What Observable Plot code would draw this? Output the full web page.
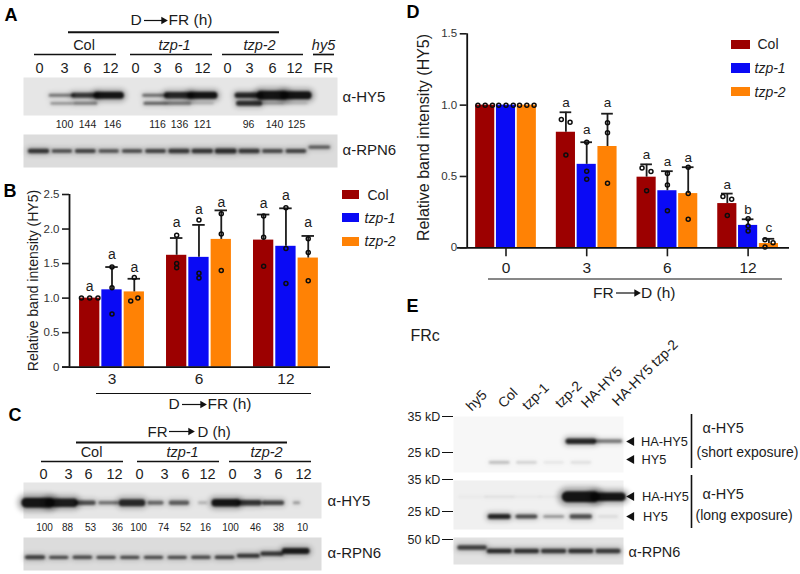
<!DOCTYPE html>
<html><head><meta charset="utf-8">
<script src="https://cdn.jsdelivr.net/npm/d3@7"></script>
<script src="https://cdn.jsdelivr.net/npm/@observablehq/plot@0.6"></script>
<style>
html,body{margin:0;padding:0;background:#fff}
#fig{position:relative;width:800px;height:574px;overflow:hidden;font-family:"Liberation Sans",Arial,sans-serif}
#fig svg{position:absolute;overflow:visible;background:transparent}
</style></head><body><div id="fig"></div>
<script>
// ---------- chart values ----------
const seriesNames = ["Col", "tzp-1", "tzp-2"];
const seriesColors = ["#9c0000", "#0a0af5", "#ff8205"];

const groupsB = ["3", "6", "12"];
const meansB = [[1.0, 1.12, 1.09], [1.62, 1.59, 1.85], [1.84, 1.75, 1.58]];
const topsB = [[1.0, 1.45, 1.28], [1.87, 2.06, 2.27], [2.21, 2.30, 1.90]];
const pointsB = [
  [[1, 1, 1], [1.45, 1.15, 0.77], [0.96, 1.0, 1.30]],
  [[1.91, 1.5, 1.44], [2.13, 1.36, 1.29], [2.22, 1.93, 1.40]],
  [[2.19, 1.88, 1.46], [2.31, 1.72, 1.21], [1.86, 1.66, 1.25]]
];
const jitterB = {"0-0": [-0.37, 0, 0.37], "0-2": [-0.16, 0.16, 0]};
const lettersB = [["a", "a", "a"], ["a", "a", "a"], ["a", "a", "a"]];
const letterPosB = [[1.17, 1.63, 1.45], [2.1, 2.28, 2.39], [2.37, 2.49, 2.09]];

const groupsD = ["0", "3", "6", "12"];
const meansD = [[1, 1, 1], [0.81, 0.585, 0.71], [0.495, 0.40, 0.38], [0.31, 0.157, 0.03]];
const topsD = [[1, 1, 1], [0.95, 0.74, 0.94], [0.585, 0.537, 0.565], [0.38, 0.20, 0.063]];
const pointsD = [
  [[1, 1, 1], [1, 1, 1], [1, 1, 1]],
  [[0.90, 0.88, 0.65], [0.74, 0.537, 0.48], [0.876, 0.806, 0.453]],
  [[0.56, 0.535, 0.40], [0.52, 0.44, 0.26], [0.565, 0.38, 0.20]],
  [[0.36, 0.34, 0.227], [0.203, 0.152, 0.117], [0.056, 0.035, 0.005]]
];
const jitterD = {"0-0": [-0.35, 0, 0.35], "0-1": [-0.35, 0, 0.35], "0-2": [-0.35, 0, 0.35],
  "1-0": [-0.22, 0.2, 0], "2-0": [-0.22, 0.21, 0], "3-0": [-0.21, 0.21, 0], "3-2": [-0.19, 0.2, -0.19]};
const lettersD = [["", "", ""], ["a", "a", "a"], ["a", "a", "a"], ["a", "b", "c"]];
const letterPosD = [[0, 0, 0], [1.02, 0.827, 1.02], [0.652, 0.605, 0.63], [0.444, 0.266, 0.138]];

const ticksB = [0, 0.5, 1, 1.5, 2, 2.5];
const ticksD = [0, 0.5, 1, 1.5];

// blot band strengths, one entry per lane
const timeLabels = ["0", "3", "6", "12"];
const quantA = ["100", "144", "146", "116", "136", "121", "96", "140", "125"];
const quantC = ["100", "88", "53", "36", "100", "74", "52", "16", "100", "46", "38", "10"];
const a1Upper = [0, .5, .8, 1, 0, .55, .9, 1, 0, .9, 1, 1, 0];
const a1UpperT = [0, 3, 5, 7, 0, 3, 6.5, 7, 0, 5.5, 9, 8, 0];
const a1Lower = [0, .4, .45, 0, 0, .6, .45, .2, 0, .85, .25, .15, 0];
const a1LowerT = [0, 2.2, 3, 0, 0, 3, 3.5, 2, 0, 5, 2.5, 2, 0];
const a2Band = [.8, .68, .72, .66, .7, .72, .78, .8, .85, .78, .68, .72, 0];
const a2BandT = [4.5, 3.5, 4, 3.5, 3.5, 4, 4.5, 4.5, 5, 4.5, 4, 4, 0];
const a2Hy5 = [0, 0, 0, 0, 0, 0, 0, 0, 0, 0, 0, 0, .62];
const c1Band = [1, .95, .68, .5, .88, .55, .6, .24, 1, .82, .72, .35];
const c1BandT = [10, 8.5, 4.5, 3.5, 7, 4, 4.5, 2.5, 7.5, 5.5, 4.5, 2.5];
const c1Span = [.5, .52, .36, .36, .42, .26, .34, .14, .46, .4, .38, .1];
const c2Band = [.75, .68, .68, .68, .68, .68, .68, .68, .75, 0, 0, 0];
const c2BandT = [4, 3.2, 3.5, 3.2, 3.2, 3.2, 3.2, 3.4, 3.6, 0, 0, 0];
const c2Rise1 = [0, 0, 0, 0, 0, 0, 0, 0, 0, .8, 0, 0];
const c2Rise2 = [0, 0, 0, 0, 0, 0, 0, 0, 0, 0, .8, 0];
const c2Rise3 = [0, 0, 0, 0, 0, 0, 0, 0, 0, 0, 0, .95];
const e1Upper = [0, 0, 0, 0, .9, .5];
const e1UpperT = [0, 0, 0, 0, 5.5, 3.6];
const e1Lower = [0, .26, .16, .07, .1, 0];
const e2Upper = [.03, .07, .04, .04, 1, 1];
const e2UpperT = [2, 2, 2, 2, 11, 8.5];
const e2Lower = [0, .9, .7, .35, .68, .1];
const e2LowerT = [0, 5, 4, 3, 4.5, 2];
const e3Band = [0, .85, .82, .78, .82, .78];
const e3Hy5 = [.75, 0, 0, 0, 0, 0];

const laneNamesE = ["hy5", "Col", "tzp-1", "tzp-2", "HA-HY5", "HA-HY5 tzp-2"];
const kdLabels = ["35 kD", "25 kD", "35 kD", "25 kD", "50 kD"];

// ---------- helpers ----------
const fig = document.getElementById("fig");
const ink = "#1c1c1c";
function place(svg, left, top) { svg.style.left = left + "px"; svg.style.top = top + "px"; fig.appendChild(svg); }

function blot(rows, {left, top, width, height, lane0, step, bg}) {
  const bands = rows.flatMap(r => r.values.map((v, i) => ({
    lane: i, y: r.y, v,
    t: Array.isArray(r.thick) ? r.thick[i] : r.thick,
    span: Array.isArray(r.span) ? r.span[i] : (r.span ?? .5)
  })).filter(b => b.v > 0));
  const band = (k, o, blur) => Plot.ruleY(bands, {
    y: "y", x1: d => d.lane - d.span, x2: d => d.lane + d.span,
    strokeWidth: d => d.t * k, strokeOpacity: {value: d => d.v * o, scale: null},
    stroke: "#080808", strokeLinecap: "round", imageFilter: `blur(${blur}px)`
  });
  const svg = Plot.plot({
    width, height, margin: 0,
    x: {type: "linear", domain: [-lane0 / step, (width - lane0) / step], range: [0, width], axis: null},
    y: {type: "linear", domain: [0, 1], range: [0, height], axis: null},
    marks: [Plot.frame({fill: bg, stroke: "none"}), band(1.8, .3, 2.4), band(1, .92, 1.15)]
  });
  place(svg, left, top);
}

function bars({groups, means, tops, points, jitter, letters, letterPos, ticks, yMax, left, top, width, height, ml, mr, mt, mb,
  slot0, slotW, gap, barHalf, baseLeft, tickLen, tickPad, yFont, xFont, letterFont, capHalf}) {
  const pos = (g, s) => g * gap + s;
  const xmin = (ml - slot0) / slotW, xmax = (width - mr - slot0) / slotW;
  const rows = groups.flatMap((g, gi) => seriesNames.map((n, si) => ({
    s: pos(gi, si), series: n, mean: means[gi][si], top: tops[gi][si]})));
  const pts = groups.flatMap((g, gi) => seriesNames.flatMap((n, si) => points[gi][si].map((v, k) => ({
    s: pos(gi, si) + ((jitter[gi + "-" + si] || [0, 0, 0])[k]), v}))));
  const lets = groups.flatMap((g, gi) => seriesNames.map((n, si) => ({
    s: pos(gi, si), t: letters[gi][si], v: letterPos[gi][si]}))).filter(d => d.t);
  const centers = groups.map((g, gi) => pos(gi, 1));
  const svg = Plot.plot({
    width, height, marginLeft: ml, marginRight: mr, marginTop: mt, marginBottom: mb,
    style: {fontFamily: '"Liberation Sans",Arial,sans-serif', color: ink, background: "transparent"},
    x: {type: "linear", domain: [xmin, xmax]},
    y: {type: "linear", domain: [0, yMax]},
    color: {domain: seriesNames, range: seriesColors},
    marks: [
      Plot.rectY(rows, {x1: d => d.s - barHalf, x2: d => d.s + barHalf, y: "mean", fill: "series", inset: 0}),
      Plot.ruleX(rows.filter(d => d.top > d.mean), {x: "s", y1: "mean", y2: "top", stroke: ink, strokeWidth: 1.8}),
      Plot.ruleY(rows.filter(d => d.top > d.mean), {y: "top", x1: d => d.s - capHalf, x2: d => d.s + capHalf, stroke: ink, strokeWidth: 1.8}),
      Plot.dot(pts, {x: "s", y: "v", r: 2, stroke: "#0c0c0c", strokeWidth: 1.5, fill: "none"}),
      Plot.text(lets, {x: "s", y: "v", text: "t", fontSize: letterFont, fill: ink}),
      Plot.ruleX([xmin], {y1: 0, y2: yMax, stroke: "#111", strokeWidth: 1.8}),
      Plot.ruleY([0], {x1: baseLeft, x2: xmax, stroke: "#111", strokeWidth: 1.8}),
      Plot.axisY({ticks, tickFormat: d => d === 0 ? "0" : d.toFixed(1), tickSize: 7, tickPadding: 3, fontSize: yFont, strokeWidth: 1.6, label: null, anchor: "left", fill: "#333"}),
      Plot.axisX({ticks: centers, tickFormat: (d, i) => groups[i], tickSize: tickLen, tickPadding: tickPad, fontSize: xFont, strokeWidth: 1.6, label: null, anchor: "bottom", fill: ink})
    ]
  });
  place(svg, left, top);
}

// ---------- blots ----------
blot([{y: .47, values: a1Upper, thick: a1UpperT, span: .5}, {y: .68, values: a1Lower, thick: a1LowerT, span: .45}],
  {left: 23, top: 77, width: 314, height: 38, lane0: 15.5, step: 23.4, bg: "#e6e6e6"});
blot([{y: .5, values: a2Band, thick: a2BandT, span: .36}, {y: .38, values: a2Hy5, thick: 3.2, span: .4}],
  {left: 23, top: 134, width: 314, height: 33, lane0: 15.5, step: 23.4, bg: "#dcdcdc"});
blot([{y: .56, values: c1Band, thick: c1BandT, span: c1Span}],
  {left: 23, top: 482, width: 298, height: 36, lane0: 15, step: 23.5, bg: "#e6e6e6"});
blot([{y: .6, values: c2Band, thick: c2BandT, span: .34}, {y: .55, values: c2Rise1, thick: 4, span: .4},
      {y: .49, values: c2Rise2, thick: 4.2, span: .4}, {y: .41, values: c2Rise3, thick: 6, span: .46}],
  {left: 23, top: 537, width: 298, height: 33, lane0: 12, step: 23.7, bg: "#dcdcdc"});
blot([{y: .44, values: e1Upper, thick: e1UpperT, span: .46}, {y: .82, values: e1Lower, thick: 2.2, span: .34}],
  {left: 453, top: 416, width: 170, height: 56, lane0: 19, step: 27.2, bg: "#f7f7f7"});
blot([{y: .33, values: e2Upper, thick: e2UpperT, span: .5}, {y: .735, values: e2Lower, thick: e2LowerT, span: .33}],
  {left: 453, top: 480, width: 170, height: 49, lane0: 19, step: 27.2, bg: "#f0f0f0"});
blot([{y: .5, values: e3Band, thick: 4.5, span: .38}, {y: .37, values: e3Hy5, thick: 4.5, span: .46}],
  {left: 453, top: 537, width: 170, height: 27, lane0: 19, step: 27.2, bg: "#e2e2e2"});

// ---------- bar charts ----------
bars({groups: groupsB, means: meansB, tops: topsB, points: pointsB, jitter: jitterB, letters: lettersB, letterPos: letterPosB,
  ticks: ticksB, yMax: 2.5, left: 0, top: 170, width: 400, height: 222, ml: 69, mr: 70, mt: 24, mb: 25.3,
  slot0: 89.2, slotW: 22.3, gap: 3.9, barHalf: .455, baseLeft: -1.22, tickLen: 0, tickPad: 6, yFont: 11.5, xFont: 15.5, letterFont: 14, capHalf: .28});
bars({groups: groupsD, means: meansD, tops: topsD, points: pointsD, jitter: jitterD, letters: lettersD, letterPos: letterPosD,
  ticks: ticksD, yMax: 1.5, left: 400, top: 0, width: 400, height: 280, ml: 66.7, mr: 11, mt: 33.3, mb: 32.7,
  slot0: 84.7, slotW: 20.8, gap: 3.88, barHalf: .46, baseLeft: -1.33, tickLen: 9, tickPad: 5, yFont: 11.5, xFont: 15.5, letterFont: 13.5, capHalf: .28});

// ---------- annotation layer, page coordinates ----------
const label = (s, x, y, o = {}) => Plot.text([s], {x: () => x, y: () => y, text: d => d, textAnchor: "start", lineAnchor: "middle", fill: ink, fontSize: 14.5, ...o});
const center = (s, x, y, o = {}) => label(s, x, y, {textAnchor: "middle", ...o});
const hline = (a, b, y, w = 1.7) => Plot.ruleY([y], {x1: () => a, x2: () => b, stroke: "#111", strokeWidth: w});
const vline = (x, a, b, w = 1.6) => Plot.ruleX([x], {y1: () => a, y2: () => b, stroke: "#111", strokeWidth: w});
const arrowHead = (x, y, angle, r = 3) => Plot.dot([0], {x: () => x, y: () => y, symbol: "triangle", rotate: angle, r, fill: "#111", stroke: "none"});
const arrow = (a, b, y) => [hline(a, b - 3, y, 1.2), arrowHead(b - 3, y, 90, 2.8)];
const swatch = (a, b, t, u, c) => Plot.rect([0], {x1: () => a, x2: () => b, y1: () => t, y2: () => u, fill: c});
const ital = {fontStyle: "italic"};
const bold = {fontWeight: "bold", fontSize: 18, fill: "#000"};
const lanesAx = [39, 64, 87, 110, 135, 157, 178, 202, 227, 249, 272, 294];
const quantAx = [64, 87, 112, 157, 179, 202, 248, 274, 296];
const lanesCx = [43, 68, 88, 114, 139, 164, 185, 207, 232, 257, 278, 303];
const quantCx = [44, 67, 90, 117, 138, 163, 185, 205, 230, 255, 278, 302];
const laneEx = [[468, 408], [500, 405], [524, 407], [557, 405], [583, 405], [614, 403]];

const marks = [
  // A
  label("A", 4, 15, bold),
  label("D", 130, 20, {fontSize: 15.5}), ...arrow(144, 166, 20), label("FR (h)", 168, 20, {fontSize: 15.5}),
  hline(68, 279, 31.7, 2),
  center("Col", 83.5, 45), center("tzp-1", 174, 45, ital), center("tzp-2", 259, 45, ital), center("hy5", 323, 45, ital),
  hline(34, 116, 54), hline(130, 212, 54), hline(222, 303, 54), hline(313, 334, 54),
  ...lanesAx.map((x, i) => center(timeLabels[i % 4], x, 67.5)), center("FR", 323, 67.5),
  ...quantA.map((s, i) => center(s, quantAx[i], 124.5, {fontSize: 10.5})),
  label("α-HY5", 342, 97, {fontSize: 15}), label("α-RPN6", 342, 149.5, {fontSize: 15}),
  // B
  label("B", 3, 191, bold),
  label("Relative band intensity (HY5)", 33, 280, {rotate: -90, textAnchor: "middle", fontSize: 14}),
  swatch(342, 359, 190, 199, seriesColors[0]), swatch(342, 359, 213, 222, seriesColors[1]), swatch(342, 359, 237, 246, seriesColors[2]),
  label("Col", 367, 195, {fontSize: 14}), label("tzp-1", 364, 218, {fontSize: 14, ...ital}), label("tzp-2", 364, 241, {fontSize: 14, ...ital}),
  hline(96, 311, 393, 1),
  label("D", 168, 404, {fontSize: 15.5}), ...arrow(182, 205, 404), label("FR (h)", 207, 404, {fontSize: 15.5}),
  // C
  label("C", 8, 415, bold),
  label("FR", 147, 432, {fontSize: 15}), ...arrow(169, 193, 431), label("D (h)", 197, 432, {fontSize: 15}),
  hline(76, 287, 442, 2),
  center("Col", 91, 452), center("tzp-1", 182, 452, ital), center("tzp-2", 266, 452, ital),
  hline(41, 123, 461), hline(137, 219, 461), hline(229, 311, 461),
  ...lanesCx.map((x, i) => center(timeLabels[i % 4], x, 474)),
  ...quantC.map((s, i) => center(s, quantCx[i], 527, {fontSize: 10})),
  label("α-HY5", 327, 501, {fontSize: 15}), label("α-RPN6", 327, 553, {fontSize: 15}),
  // D
  label("D", 406, 12, bold),
  label("Relative band intensity (HY5)", 423, 137, {rotate: -90, textAnchor: "middle", fontSize: 16}),
  swatch(731, 750, 40, 49, seriesColors[0]), swatch(731, 750, 63, 73, seriesColors[1]), swatch(731, 750, 87, 96, seriesColors[2]),
  label("Col", 757, 44, {fontSize: 14}), label("tzp-1", 754, 68, {fontSize: 14, ...ital}), label("tzp-2", 754, 92, {fontSize: 14, ...ital}),
  hline(488, 782, 278.5, 1),
  label("FR", 592.5, 293, {fontSize: 15.5}), ...arrow(616, 639, 292.5), label("D (h)", 640.5, 293, {fontSize: 15.5}),
  // E
  label("E", 406, 306, bold),
  label("FRc", 410, 335, {fontSize: 16}),
  ...laneNamesE.map((s, i) => label(s, laneEx[i][0], laneEx[i][1], {rotate: -45, fontSize: 14})),
  ...[416, 452, 479, 511, 539].map((y, i) => label(kdLabels[i], 407, y, {fontSize: 12.5})),
  ...[416, 452, 479, 511, 539].map(y => hline(442, 453, y, 1)),
  ...[441, 459, 496, 516].map(y => arrowHead(631, y, -90, 3.4)),
  label("HA-HY5", 640.5, 441, {fontSize: 12.8}), label("HY5", 641, 459, {fontSize: 12.8}),
  label("HA-HY5", 641.5, 496, {fontSize: 12.8}), label("HY5", 642.5, 516, {fontSize: 12.8}),
  vline(691, 414, 468), vline(691, 475, 528),
  label("α-HY5", 702, 428, {fontSize: 14.5}), label("(short exposure)", 696, 452, {fontSize: 14}),
  label("α-HY5", 702, 494, {fontSize: 14.5}), label("(long exposure)", 695, 515, {fontSize: 14}),
  label("α-RPN6", 628, 552, {fontSize: 14.5})
];
place(Plot.plot({
  width: 800, height: 574, margin: 0,
  style: {fontFamily: '"Liberation Sans",Arial,sans-serif', background: "transparent"},
  x: {type: "linear", domain: [0, 800], range: [0, 800], axis: null},
  y: {type: "linear", domain: [0, 574], range: [0, 574], axis: null},
  marks
}), 0, 0);
</script></body></html>
